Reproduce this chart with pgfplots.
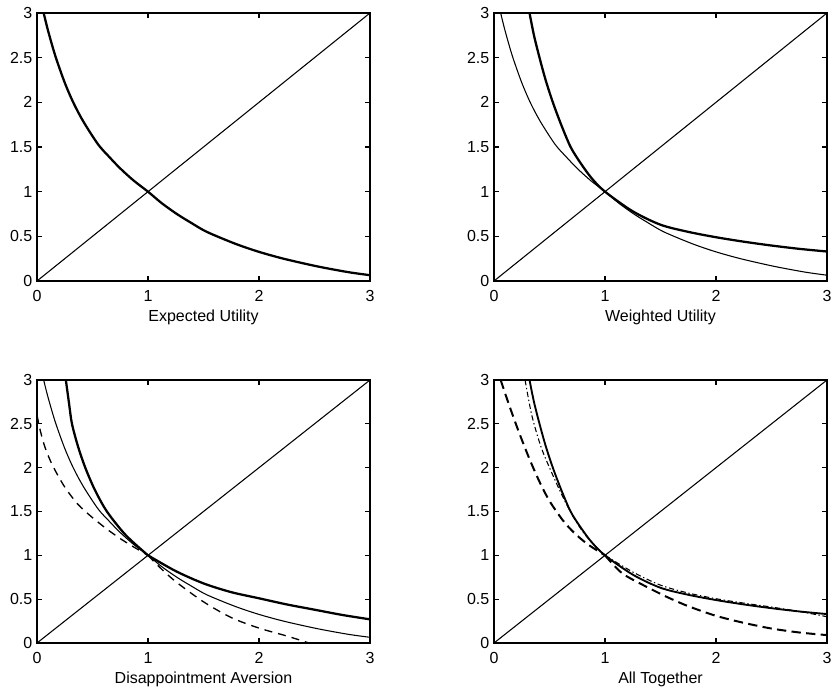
\documentclass[border=0pt]{standalone}
\usepackage{fontspec}
\setmainfont{Liberation Sans}
\usepackage{pgfplots}
\usepackage{pgfplotstable}
\pgfplotsset{compat=1.18}

\pgfplotstableread{
x y
0.06 3.0
0.1 2.8
0.165 2.52
0.25 2.22
0.33 1.99
0.42 1.78
0.55 1.53
0.65 1.39
0.75 1.26
0.87 1.125
1.0 1.0
1.125 0.87
1.26 0.75
1.39 0.65
1.53 0.55
1.78 0.42
1.99 0.33
2.22 0.25
2.52 0.165
2.8 0.1
3.0 0.065
}\eu

\pgfplotstableread{
x y
0.32 3.0
0.36 2.75
0.41 2.5
0.465 2.25
0.53 2.0
0.605 1.75
0.69 1.5
0.78 1.32
0.88 1.15
1.0 1.0
1.25 0.78
1.5 0.63
1.75 0.55
2.0 0.49
2.25 0.44
2.5 0.397
2.75 0.36
3.0 0.33
}\wu

\pgfplotstableread{
x y
0.26 3.0
0.29 2.72
0.315 2.5
0.37 2.24
0.435 2.0
0.52 1.75
0.63 1.5
0.8 1.23
1.0 1.0
1.25 0.82
1.5 0.68
1.75 0.58
2.0 0.51
2.25 0.44
2.5 0.38
2.75 0.32
3.0 0.27
}\dathick

\pgfplotstableread{
x y
0.0 2.6
0.03 2.42
0.07 2.24
0.12 2.08
0.18 1.93
0.26 1.76
0.37 1.58
0.5 1.43
0.65 1.28
0.8 1.15
1.0 1.0
1.1 0.87
1.25 0.7
1.5 0.47
1.75 0.29
2.0 0.17
2.25 0.08
2.45 0.0
}\dadash

\pgfplotstableread{
x y
0.28 3.0
0.34 2.6
0.42 2.25
0.5 2.0
0.6 1.72
0.7 1.47
0.8 1.27
0.9 1.12
1.0 1.0
1.25 0.81
1.5 0.66
1.75 0.57
2.0 0.505
2.25 0.455
2.5 0.41
2.75 0.36
3.0 0.3
}\atdashdot

\pgfplotstableread{
x y
0.06 3.0
0.14 2.7
0.226 2.4
0.316 2.11
0.406 1.85
0.5 1.62
0.62 1.4
0.72 1.26
0.84 1.13
1.0 1.0
1.15 0.8
1.33 0.67
1.55 0.53
1.75 0.42
2.0 0.31
2.25 0.23
2.5 0.165
2.75 0.12
3.0 0.09
}\atdash

\pgfplotsset{
  panel/.style={
    scale only axis,
    width=249.75pt,
    xmin=0, xmax=3, ymin=0, ymax=3,
    xtick={0,1,2,3},
    ytick={0,0.5,1,1.5,2,2.5,3},
    yticklabels={0,0.5,1,1.5,2,2.5,3},
    xticklabels={0,1,2,3},
    tick align=inside,
    major tick length=3.5pt,
    every tick/.style={black, line width=0.8pt},
    axis line style={line width=1.4pt},
    font=\fontsize{12}{14}\selectfont,
    /pgf/number format/assume math mode=true,
    xticklabel style={yshift=-3.5pt},
    xlabel style={at={(axis description cs:0.5,0)}, anchor=center, yshift=-27.5pt},
    anchor=south west,
  },
  thin/.style={black, line width=0.8pt},
  thick/.style={black, line width=1.7pt},
  L/.style={smooth, restrict x to domain=0:1},
  R/.style={smooth, restrict x to domain=1:3},
}

\begin{document}
\begin{tikzpicture}
\useasboundingbox (0,0) rectangle (628.5pt,519.75pt);

% Panel 1
\begin{axis}[panel, height=201pt, at={(27.75pt,309pt)}, xlabel={Expected Utility}]
\addplot[thin] coordinates {(0,0) (3,3)};
\addplot[thick, smooth] table[x=x,y=y] {\eu};
\end{axis}

% Panel 2
\begin{axis}[panel, height=201pt, at={(370.5pt,309pt)}, xlabel={Weighted Utility}]
\addplot[thin] coordinates {(0,0) (3,3)};
\addplot[thin, smooth] table[x=x,y=y] {\eu};
\addplot[thick, smooth] table[x=x,y=y] {\wu};
\end{axis}

% Panel 3
\begin{axis}[panel, height=197.25pt, at={(27.75pt,37.5pt)}, xlabel={Disappointment Aversion}]
\addplot[thin] coordinates {(0,0) (3,3)};
\addplot[thin, smooth] table[x=x,y=y] {\eu};
\addplot[thick, L] table[x=x,y=y] {\dathick};
\addplot[thick, R] table[x=x,y=y] {\dathick};
\addplot[black, line width=1.0pt, dash pattern=on 6pt off 4.5pt, L] table[x=x,y=y] {\dadash};
\addplot[black, line width=1.0pt, dash pattern=on 6pt off 4.5pt, R] table[x=x,y=y] {\dadash};
\end{axis}

% Panel 4
\begin{axis}[panel, height=197.25pt, at={(370.5pt,37.5pt)}, xlabel={All Together}]
\addplot[thin] coordinates {(0,0) (3,3)};
\addplot[black, line width=0.8pt, dash pattern=on 4pt off 2pt on 1pt off 2pt, L] table[x=x,y=y] {\atdashdot};
\addplot[black, line width=0.8pt, dash pattern=on 4pt off 2pt on 1pt off 2pt, R] table[x=x,y=y] {\atdashdot};
\addplot[black, line width=1.4pt, smooth] table[x=x,y=y] {\wu};
\addplot[black, line width=1.5pt, dash pattern=on 7pt off 4pt, L] table[x=x,y=y] {\atdash};
\addplot[black, line width=1.5pt, dash pattern=on 7pt off 4pt, R] table[x=x,y=y] {\atdash};
\end{axis}
\end{tikzpicture}
\end{document}
